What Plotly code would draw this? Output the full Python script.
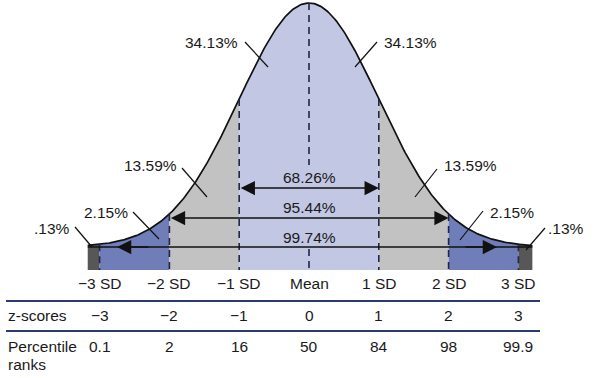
import numpy as np
import plotly.graph_objects as go

# ---- data ----
sd_positions = [-3, -2, -1, 0, 1, 2, 3]
sd_labels = ["\u22123 SD", "\u22122 SD", "\u22121 SD", "Mean", "1 SD", "2 SD", "3 SD"]
z_scores = ["\u22123", "\u22122", "\u22121", "0", "1", "2", "3"]
percentile_ranks = ["0.1", "2", "16", "50", "84", "98", "99.9"]
region_bounds = [(-3.17, -3), (-3, -2), (-2, -1), (-1, 0), (0, 1), (1, 2), (2, 3), (3, 3.2)]
region_colors = ["#575757", "#6f7eb9", "#c2c2c2", "#c2c7e4", "#c2c7e4", "#c2c2c2", "#6f7eb9", "#575757"]
area_labels = ["34.13%", "34.13%", "13.59%", "13.59%", "2.15%", "2.15%", ".13%", ".13%"]
span_labels = ["68.26%", "95.44%", "99.74%"]

# ---- pixel helpers (layout) ----
W, H = 595, 378
MX, SDPX = 309, 69.8
BASE, PEAK = 247, 244

def X(px):
    return (px - MX) / SDPX

def Y(py):
    return (BASE - py) / PEAK

def curve(z):
    return np.exp(-np.asarray(z) ** 2 / 2)

band_bottom = Y(270)
FONT = "Liberation Sans, Arial, sans-serif"
TXT = "#1a1a1a"
NAVY = "#1f2646"

fig = go.Figure()

# filled regions
for (a, b), col in zip(region_bounds, region_colors):
    xs = np.linspace(a, b, 80)
    ys = curve(xs)
    px = np.concatenate([xs, [b, a]])
    py = np.concatenate([ys, [band_bottom, band_bottom]])
    fig.add_trace(go.Scatter(x=px, y=py, fill="toself", fillcolor=col, mode="none",
                             hoverinfo="skip", showlegend=False))

# curve outline
xc = np.linspace(region_bounds[0][0], region_bounds[-1][1], 400)
fig.add_trace(go.Scatter(x=xc, y=curve(xc), mode="lines", line=dict(color="#111111", width=1.7),
                         hoverinfo="skip", showlegend=False))

shapes = []
# dashed SD lines
for z in sd_positions:
    if z == 0:
        shapes.append(dict(type="line", x0=0, x1=0, y0=curve(0), y1=Y(165), xref="x", yref="y",
                           line=dict(color=NAVY, width=1.6, dash="7px,5px")))
        shapes.append(dict(type="line", x0=0, x1=0, y0=Y(249), y1=band_bottom, xref="x", yref="y",
                           line=dict(color=NAVY, width=1.6, dash="7px,5px")))
    else:
        shapes.append(dict(type="line", x0=z, x1=z, y0=float(curve(z)), y1=band_bottom, xref="x", yref="y",
                           line=dict(color=NAVY, width=1.6, dash="7px,5px")))

# 99.74 base line across band top
shapes.append(dict(type="line", x0=region_bounds[0][0], x1=region_bounds[-1][1], y0=0, y1=0,
                   xref="x", yref="y", line=dict(color="#111111", width=1.5)))

# leader lines
leaders = [((245, 42), (268, 67)), ((377, 42), (355, 67)),
           ((182, 168), (207, 197)), ((437, 169), (415, 197)),
           ((133, 212), (159, 239)), ((483, 211), (460, 240)),
           ((75, 227), (92, 247)), ((545, 228), (526, 250))]
for (x0, y0), (x1, y1) in leaders:
    shapes.append(dict(type="line", x0=X(x0), y0=Y(y0), x1=X(x1), y1=Y(y1), xref="x", yref="y",
                       line=dict(color="#111111", width=1.2)))

# table rules
for py in (301, 331):
    shapes.append(dict(type="line", x0=X(6), x1=X(540), y0=Y(py), y1=Y(py), xref="x", yref="y",
                       line=dict(color="#2c3a72", width=2)))

annotations = []
def txt(x, y, s, anchor="center"):
    annotations.append(dict(x=x, y=y, text=s, showarrow=False, xref="x", yref="y",
                            xanchor=anchor, yanchor="middle",
                            font=dict(family=FONT, size=15.5, color=TXT)))

# area labels
area_pos = [(211, 42), (410, 42), (150, 165), (470, 165), (106, 212), (512, 212), (52, 228), (566, 228)]
for (px, py), s in zip(area_pos, area_labels):
    txt(X(px), Y(py), s)

# span labels and arrows
span_y_text = [177, 207, 237]
for s, py in zip(span_labels, span_y_text):
    txt(0, Y(py), s)

def arrow(xtip, xtail, y, both=False):
    annotations.append(dict(x=xtip, y=y, ax=xtail, ay=y, xref="x", yref="y", axref="x", ayref="y",
                            text="", showarrow=True, arrowhead=2, arrowsize=1.9, arrowwidth=1.5,
                            arrowcolor="#111111", arrowside="end+start" if both else "end",
                            standoff=0, startstandoff=0))

arrow(1, -1, Y(188), both=True)
arrow(2, -2, Y(218), both=True)
arrow(X(117), X(150), 0)
arrow(X(497), X(464), 0)

# SD labels and table
for z, s, zz, pr in zip(sd_positions, sd_labels, z_scores, percentile_ranks):
    txt(z, Y(283), s)
    txt(z, Y(315), zz)
    txt(z, Y(346), pr)
txt(X(6), Y(315), "z-scores", anchor="left")
txt(X(6), Y(346), "Percentile", anchor="left")
txt(X(6), Y(364), "ranks", anchor="left")

fig.update_layout(
    width=W, height=H, autosize=False,
    margin=dict(l=0, r=0, t=0, b=0),
    paper_bgcolor="white", plot_bgcolor="white",
    xaxis=dict(range=[X(0), X(W)], visible=False, fixedrange=True),
    yaxis=dict(range=[Y(H), Y(0)], visible=False, fixedrange=True),
    shapes=shapes, annotations=annotations, showlegend=False,
)

fig.write_html("out.html", config={"displayModeBar": False},
               post_script="document.body.style.margin='0px';document.body.style.overflow='hidden';")
